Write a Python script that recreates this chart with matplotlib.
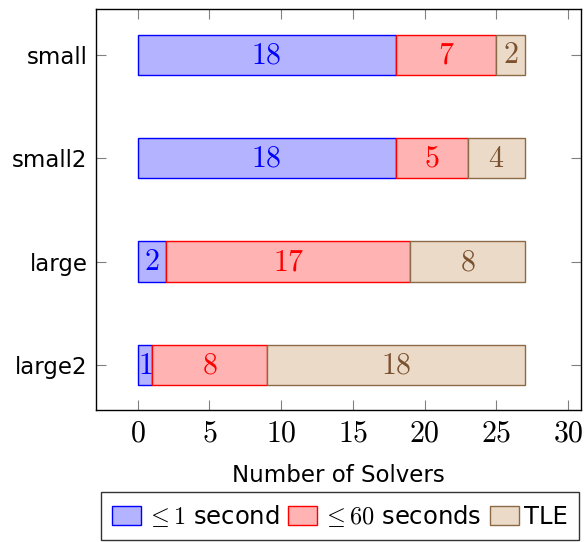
import matplotlib.pyplot as plt
import numpy as np

plt.rcParams['mathtext.fontset'] = 'cm'
plt.rcParams['font.family'] = 'DejaVu Sans'

categories = ['small', 'small2', 'large', 'large2']
fast = [18, 18, 2, 1]
medium = [7, 5, 17, 8]
tle = [2, 4, 8, 18]

series = [
    (fast, r'$\leq 1$ second', '#b3b3ff', '#0000ff', '#0000ff'),
    (medium, r'$\leq 60$ seconds', '#ffb3b3', '#ff0000', '#ff0000'),
    (tle, 'TLE', '#ecdac8', '#8c6a48', '#7a5230'),
]

fig = plt.figure(figsize=(5.84, 5.42), dpi=100)
ax = fig.add_axes([0.1644, 0.2435, 0.8305, 0.74])

y = np.arange(len(categories))
left = np.zeros(len(categories))
handles = []
for vals, label, fc, ec, tc in series:
    vals = np.array(vals)
    bars = ax.barh(y, vals, left=left, height=0.39, color=fc, edgecolor=ec,
                   linewidth=1, label=label)
    handles.append(bars)
    for yi, l, v in zip(y, left, vals):
        ax.text(l + v / 2, yi, f'${v}$', ha='center', va='center',
                color=tc, fontsize=21.5)
    left = left + vals

ax.set_xlim(-2.9, 30.9)
ax.set_ylim(3.435, -0.444)
ax.set_xticks([0, 5, 10, 15, 20, 25, 30])
ax.set_xticklabels([f'${t}$' for t in [0, 5, 10, 15, 20, 25, 30]], fontsize=21.5)
ax.set_yticks(y)
ax.set_yticklabels(categories, fontsize=16.5)
ax.tick_params(direction='in', length=7.5, width=0.8, color='#808080',
               top=True, right=True, pad=6)
for s in ax.spines.values():
    s.set_linewidth(1)
ax.set_xlabel('Number of Solvers', fontsize=16.5, labelpad=12)

ax.legend(handles=handles, loc='upper center', bbox_to_anchor=(0.503, -0.204),
          ncol=3, frameon=True, fancybox=False, edgecolor='black',
          fontsize=17.5, handlelength=1.2, handleheight=0.8, handletextpad=0.2,
          columnspacing=0.35, borderpad=0.45, borderaxespad=0)

plt.savefig('out.png', dpi=100)
